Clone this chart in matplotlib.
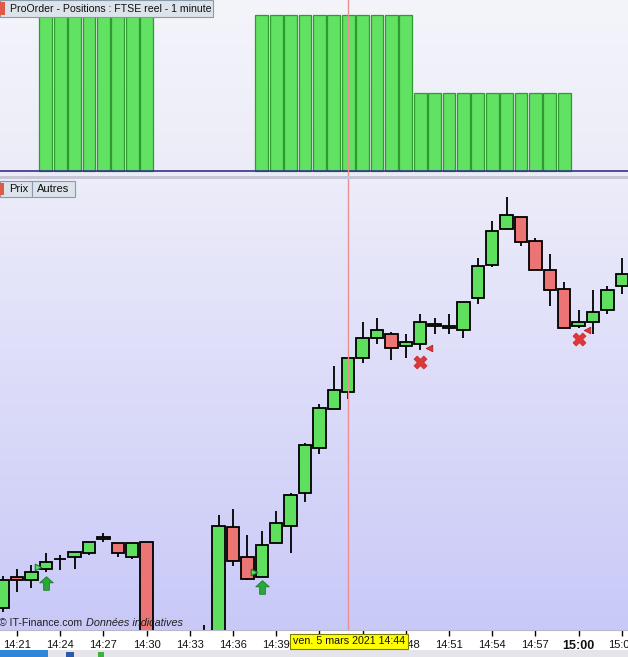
import matplotlib
matplotlib.use("Agg")
import matplotlib.pyplot as plt
import numpy as np
from matplotlib.path import Path
from matplotlib.patches import Rectangle

plt.rcParams['font.family'] = ['Liberation Sans', 'DejaVu Sans']

# ---------------- data ----------------
times = ["14:20", "14:21", "14:22", "14:23", "14:24", "14:25", "14:26", "14:27", "14:28", "14:29",
         "14:30", "14:31", "14:32", "14:33", "14:34", "14:35", "14:36", "14:37", "14:38", "14:39",
         "14:40", "14:41", "14:42", "14:43", "14:44", "14:45", "14:46", "14:47", "14:48", "14:49",
         "14:50", "14:51", "14:52", "14:53", "14:54", "14:55", "14:56", "14:57", "14:58", "14:59",
         "15:00", "15:01", "15:02", "15:03"]
opens = [6392, 6423, 6420, 6431, 6441, 6443, 6447, 6463, 6457, 6443,
         6458, 6300, 6280, 6290, 6310, 6330, 6473, 6443, 6423, 6457,
         6474, 6507, 6552, 6591, 6608, 6642, 6662, 6666, 6654, 6656,
         6676, 6672, 6670, 6702, 6735, 6771, 6783, 6759, 6730, 6711,
         6674, 6678, 6690, 6714]
highs = [6424, 6431, 6435, 6447, 6445, 6448, 6458, 6467, 6457, 6457,
         6458, 6310, 6300, 6320, 6375, 6485, 6491, 6465, 6469, 6489,
         6507, 6557, 6596, 6634, 6642, 6678, 6682, 6668, 6666, 6686,
         6682, 6686, 6698, 6742, 6779, 6803, 6783, 6762, 6746, 6718,
         6690, 6710, 6714, 6742]
lows = [6388, 6408, 6412, 6428, 6430, 6431, 6445, 6458, 6443, 6441,
        6295, 6270, 6255, 6280, 6300, 6320, 6434, 6420, 6423, 6457,
        6447, 6498, 6546, 6591, 6601, 6637, 6656, 6640, 6642, 6650,
        6666, 6666, 6662, 6696, 6733, 6771, 6754, 6730, 6694, 6672,
        6672, 6666, 6686, 6706]
closes = [6420, 6420, 6428, 6438, 6441, 6448, 6458, 6461, 6447, 6457,
          6300, 6280, 6290, 6310, 6330, 6474, 6439, 6421, 6455, 6477,
          6505, 6555, 6592, 6610, 6642, 6662, 6670, 6652, 6658, 6678,
          6674, 6674, 6698, 6734, 6769, 6785, 6758, 6730, 6710, 6672,
          6678, 6688, 6710, 6726]

# ProOrder positions (lots held) per minute
position_times = ["14:23", "14:24", "14:25", "14:26", "14:27", "14:28", "14:29", "14:30",
                  "14:38", "14:39", "14:40", "14:41", "14:42", "14:43", "14:44", "14:45",
                  "14:46", "14:47", "14:48",
                  "14:49", "14:50", "14:51", "14:52", "14:53", "14:54", "14:55", "14:56",
                  "14:57", "14:58", "14:59"]
position_sizes = [2, 2, 2, 2, 2, 2, 2, 2,
                  2, 2, 2, 2, 2, 2, 2, 2, 2, 2, 2,
                  1, 1, 1, 1, 1, 1, 1, 1, 1, 1, 1]

# signals
buy_times = ["14:23", "14:38"]
buy_arrow_prices = [6417, 6413]
entry_prices = [6433, 6428]
sell_times = ["14:49", "15:00"]
sell_x_prices = [6638, 6661]
exit_prices = [6652, 6670]

tick_times = ["14:21", "14:24", "14:27", "14:30", "14:33", "14:36", "14:39", "14:42",
              "14:45", "14:48", "14:51", "14:54", "14:57", "15:00", "15:03"]
tick_labels = ["14:21", "14:24", "14:27", "14:30", "14:33", "14:36", "14:39", "",
               "", "14:48", "14:51", "14:54", "14:57", "15:00", "15:03"]
cursor_time = "14:44"
cursor_label = "ven. 5 mars 2021 14:44"

# ---------------- helpers ----------------
def idx(t):
    h, m = t.split(":")
    return (int(h) * 60 + int(m)) - (14 * 60 + 20)

W, H = 628, 657
fig = plt.figure(figsize=(W / 100, H / 100), dpi=100)
fig.patch.set_facecolor("white")

def rect(x0, y0, x1, y1):
    return [x0 / W, 1 - y1 / H, (x1 - x0) / W, (y1 - y0) / H]

XMIN, XMAX = -0.18, 43.43

# ---------------- top panel ----------------
ax1 = fig.add_axes(rect(0, 0, 628, 176))
grad = np.linspace(0, 1, 64).reshape(-1, 1)
ax1.imshow(grad, extent=[0, 1, 0, 1], transform=ax1.transAxes, aspect='auto',
           cmap=matplotlib.colors.LinearSegmentedColormap.from_list("t", ["#ececf8", "#f4f4fb"]),
           origin='lower', zorder=0)
px = [idx(t) for t in position_times]
ax1.bar(px, position_sizes, width=0.9, color="#62e262", edgecolor="#2f9a2f", linewidth=0.9, zorder=2)
ax1.axhline(0, color="#34348a", lw=1.2, zorder=3)
ax1.axvline(idx(cursor_time), color="#ee8f8f", lw=1, zorder=4)
ax1.set_xlim(XMIN, XMAX)
ax1.set_ylim(-5 / 78, 171 / 78)
ax1.axis('off')
fig.text(10 / W, 1 - 8.5 / H, "ProOrder - Positions : FTSE reel - 1 minute", fontsize=7.6,
         va='center', ha='left', color="#101010", zorder=10)
fig.patches.append(Rectangle((0, 1 - 17 / H), 213 / W, 17 / H, transform=fig.transFigure,
                             facecolor="#dce3ea", edgecolor="#8a9aa8", lw=0.8, zorder=5))
fig.patches.append(Rectangle((0, 1 - 15 / H), 5 / W, 13 / H, transform=fig.transFigure,
                             facecolor="#e05a4a", edgecolor="none", zorder=6))

# separator
fig.patches.append(Rectangle((0, 1 - 179 / H), 1, 3 / H, transform=fig.transFigure,
                             facecolor="#c6c6d6", edgecolor="none", zorder=1))

# ---------------- price panel ----------------
ax2 = fig.add_axes(rect(0, 179, 628, 630))
ax2.imshow(grad, extent=[0, 1, 0, 1], transform=ax2.transAxes, aspect='auto',
           cmap=matplotlib.colors.LinearSegmentedColormap.from_list("p", ["#c9c9f8", "#ececfa"]),
           origin='lower', zorder=0)
x = np.array([idx(t) for t in times])
o = np.array(opens); c = np.array(closes); hi = np.array(highs); lo = np.array(lows)
cols = np.where(c > o, "#5ee05e", np.where(c < o, "#ec7474", "#000000"))
ax2.vlines(x, lo, hi, color="black", lw=1.3, zorder=2)
ax2.bar(x, np.abs(c - o), bottom=np.minimum(o, c), width=0.86, color=cols,
        edgecolor="black", linewidth=1.3, zorder=3)
ax2.axvline(idx(cursor_time), color="#ee8f8f", lw=1, zorder=4)

# buy arrows
arrow = Path([(0, 1), (1, 0.1), (0.42, 0.1), (0.42, -1), (-0.42, -1), (-0.42, 0.1), (-1, 0.1), (0, 1)],
             [Path.MOVETO] + [Path.LINETO] * 6 + [Path.CLOSEPOLY])
bx = [idx(t) for t in buy_times]
ax2.scatter(bx, buy_arrow_prices, marker=arrow, s=95, color="#2aa83a", edgecolors="#1a7a2a",
            linewidths=0.6, zorder=5)
ax2.scatter(np.array(bx) - 0.55, entry_prices, marker='>', s=22, color="#5ee05e",
            edgecolors="#1a7a2a", linewidths=0.8, zorder=5)
sx = [idx(t) for t in sell_times]
ax2.scatter(sx, sell_x_prices, marker='X', s=90, color="#e03838", edgecolors="#c02020",
            linewidths=0.4, zorder=5)
ax2.scatter(np.array(sx) + 0.6, exit_prices, marker='<', s=22, color="#e03838",
            edgecolors="#b02020", linewidths=0.6, zorder=5)

ax2.set_xlim(XMIN, XMAX)
ax2.set_ylim(6370, 6821)
ax2.set_yticks([])
for s in ["top", "right", "left"]:
    ax2.spines[s].set_visible(False)
ax2.spines["bottom"].set_color("#b8b8c8")
ax2.set_xticks([idx(t) for t in tick_times])
ax2.set_xticklabels(tick_labels)
ax2.tick_params(axis='x', direction='out', length=4, width=1, color="black",
                labelsize=8, pad=3, labelcolor="#101010")
for lab in ax2.get_xticklabels():
    if lab.get_text() == "15:00":
        lab.set_fontweight("bold")
        lab.set_fontsize(9)

# Prix / Autres tabs
fig.patches.append(Rectangle((0, 1 - 197 / H), 32 / W, 16 / H, transform=fig.transFigure,
                             facecolor="#dce3ea", edgecolor="#8a9aa8", lw=0.8, zorder=5))
fig.patches.append(Rectangle((32 / W, 1 - 197 / H), 43 / W, 16 / H, transform=fig.transFigure,
                             facecolor="#dce3ea", edgecolor="#8a9aa8", lw=0.8, zorder=5))
fig.patches.append(Rectangle((0, 1 - 195 / H), 4 / W, 12 / H, transform=fig.transFigure,
                             facecolor="#e05a4a", edgecolor="none", zorder=6))
fig.text(9 / W, 1 - 189 / H, "Prix", fontsize=8, va='center', ha='left', color="#101010", zorder=10)
fig.text(37 / W, 1 - 189 / H, "Autres", fontsize=8, va='center', ha='left', color="#101010", zorder=10)

# watermark
fig.text(-1 / W, 1 - 623 / H, "© IT-Finance.com", fontsize=7.6, va='center', ha='left', color="#202020", zorder=10)
fig.text(86 / W, 1 - 623 / H, "Données indicatives", fontsize=7.8, style='italic',
         va='center', ha='left', color="#202020", zorder=10)

# cursor date label
fig.text(349 / W, 1 - 641.5 / H, cursor_label, fontsize=7.7, va='center', ha='center', color="#101010",
         zorder=10, bbox=dict(boxstyle='square,pad=0.25', facecolor="#ffff00", edgecolor="#808000", lw=0.8))

# bottom toolbar strip
fig.patches.append(Rectangle((0, 0), 1, 7 / H, transform=fig.transFigure,
                             facecolor="#e4e4ea", edgecolor="none", zorder=1))
fig.patches.append(Rectangle((0, 0), 48 / W, 7 / H, transform=fig.transFigure,
                             facecolor="#2f86d8", edgecolor="none", zorder=2))
fig.patches.append(Rectangle((66 / W, 0), 8 / W, 5 / H, transform=fig.transFigure,
                             facecolor="#2a5aa8", edgecolor="none", zorder=2))
fig.patches.append(Rectangle((98 / W, 0), 6 / W, 5 / H, transform=fig.transFigure,
                             facecolor="#3cb43c", edgecolor="none", zorder=2))

fig.savefig("out.png", dpi=100)
